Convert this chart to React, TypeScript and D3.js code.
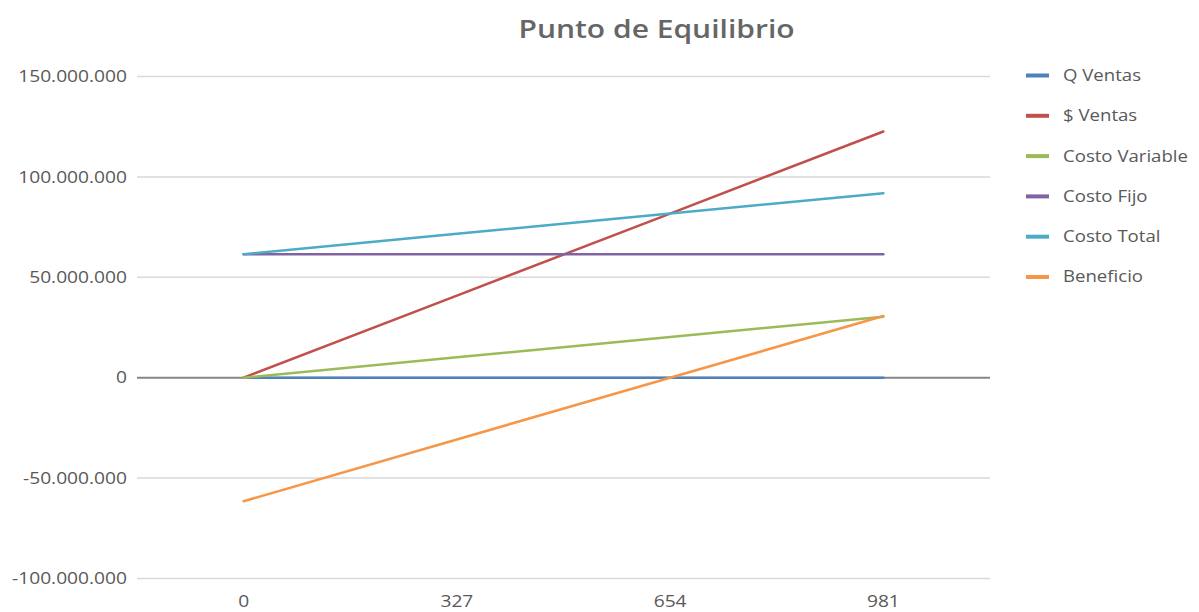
import React from "react";
import * as d3 from "d3";

// Break-even chart data (units sold on the category axis)
const categories: string[] = ["0", "327", "654", "981"];

const qVentas: number[] = [0, 327, 654, 981];
const ventas: number[] = [0, 40875000, 81750000, 122625000];
const costoVariable: number[] = [0, 10137000, 20274000, 30411000];
const costoFijo: number[] = [61500000, 61500000, 61500000, 61500000];
const costoTotal: number[] = [61500000, 71637000, 81774000, 91911000];
const beneficio: number[] = [-61500000, -30762000, -24000, 30714000];

const yTicks: number[] = [-100000000, -50000000, 0, 50000000, 100000000, 150000000];

const seriesNames: string[] = ["Q Ventas", "$ Ventas", "Costo Variable", "Costo Fijo", "Costo Total", "Beneficio"];
const seriesColors: string[] = ["#4F81BD", "#C0504D", "#9BBB59", "#8064A2", "#4BACC6", "#F79646"];
const seriesValues: number[][] = [qVentas, ventas, costoVariable, costoFijo, costoTotal, beneficio];

const W = 1199;
const H = 612;
const FONT = "'Open Sans', 'Noto Sans', sans-serif";
const STRETCH = 1.2; // text is drawn slightly widened

const fmt = (v: number) => {
  const s = Math.abs(v).toString().replace(/\B(?=(\d{3})+(?!\d))/g, ".");
  return v < 0 ? "-" + s : s;
};

type LabelProps = {
  x: number;
  y: number;
  anchor: "start" | "middle" | "end";
  size: number;
  weight?: number;
  fill?: string;
  children: React.ReactNode;
};

function Label({ x, y, anchor, size, weight = 400, fill = "#595959", children }: LabelProps) {
  return (
    <text
      transform={`translate(${x},${y}) scale(${STRETCH},1)`}
      dy="0.35em"
      textAnchor={anchor}
      fontFamily={FONT}
      fontSize={size}
      fontWeight={weight}
      fill={fill}
    >
      {children}
    </text>
  );
}

export default function App() {
  const plotLeft = 137;
  const plotRight = 990;

  const x = d3.scalePoint<string>().domain(categories).range([plotLeft, plotRight]).padding(0.5);
  const y = d3.scaleLinear().domain([-100000000, 150000000]).range([578.5, 76.5]);

  const line = d3
    .line<number>()
    .x((_, i) => x(categories[i]) as number)
    .y((d) => y(d));

  return (
    <svg width={W} height={H} style={{ position: "absolute", left: 0, top: 0, background: "#fff" }}>
      <rect x={0} y={0} width={W} height={H} fill="#fff" />

      <Label x={656.5} y={29} anchor="middle" size={25} weight={600} fill="#666666">
        Punto de Equilibrio
      </Label>

      {yTicks.map((t) => (
        <g key={t}>
          {t !== 0 && (
            <line x1={plotLeft} x2={plotRight} y1={y(t)} y2={y(t)} stroke="#D9D9D9" strokeWidth={1.5} />
          )}
          <Label x={plotLeft - 10} y={y(t)} anchor="end" size={16}>
            {fmt(t)}
          </Label>
        </g>
      ))}

      <line x1={plotLeft} x2={plotRight} y1={y(0)} y2={y(0)} stroke="#868686" strokeWidth={2} />

      {categories.map((c) => (
        <Label key={c} x={x(c) as number} y={601} anchor="middle" size={16}>
          {c}
        </Label>
      ))}

      {seriesValues.map((vals, i) => (
        <path
          key={seriesNames[i]}
          d={line(vals) as string}
          fill="none"
          stroke={seriesColors[i]}
          strokeWidth={2.5}
          strokeLinecap="round"
          strokeLinejoin="round"
        />
      ))}

      {seriesNames.map((name, i) => {
        const ly = 75.5 + i * 40.3;
        return (
          <g key={name}>
            <line x1={1026} x2={1049} y1={ly} y2={ly} stroke={seriesColors[i]} strokeWidth={4} />
            <Label x={1063} y={ly} anchor="start" size={15.5}>
              {name}
            </Label>
          </g>
        );
      })}
    </svg>
  );
}
